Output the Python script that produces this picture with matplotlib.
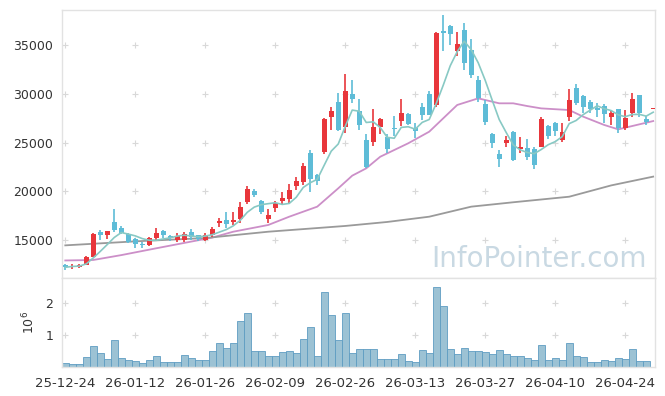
import numpy as np
import pandas as pd
import matplotlib
matplotlib.use('Agg')
import matplotlib.pyplot as plt

# daily candles (KRW)
opens = [12440, 12230, 12230, 12470, 13260, 15850, 15510, 16815, 16200, 15620,
         15130, 14590, 14460, 15170, 15920, 15410, 15000, 15000, 15820, 15480,
         15000, 15480, 16780, 17050, 16850, 17120, 18930, 20030, 19000, 17150,
         18310, 19000, 19200, 20570, 20980, 23950, 21670, 24060, 27650, 29180,
         26620, 29970, 28260, 25230, 25020, 26560, 25530, 26490, 27240, 27920,
         26490, 28610, 29970, 28880, 36400, 36930, 34430, 36540, 34490, 31410,
         28950, 25870, 23820, 24920, 26080, 24360, 24470, 24330, 24570, 26700,
         26970, 25260, 27650, 30560, 29770, 29180, 28570, 28740, 27650, 28430,
         26470, 28000, 29870, 27390, 28470]
highs = [12540, 12510, 12500, 13390, 15750, 16030, 15920, 18150, 16440, 15700,
         15240, 14830, 15270, 16200, 16025, 15510, 15680, 15850, 16100, 15550,
         15680, 16300, 17290, 17840, 17900, 18870, 20570, 20200, 19100, 18150,
         19000, 19950, 20710, 21430, 22900, 24230, 21800, 27500, 28670, 30100,
         32000, 31410, 29500, 25870, 28440, 27510, 25870, 27690, 29500, 28030,
         27000, 29050, 30250, 36340, 38070, 37030, 36360, 37290, 35580, 31820,
         29360, 25940, 24230, 25670, 26180, 25530, 25330, 24500, 27650, 26800,
         27140, 26970, 30460, 31000, 29870, 29360, 29100, 28950, 28330, 28430,
         28330, 30050, 29870, 27720, 28470]
lows = [11920, 12060, 12100, 12400, 13220, 15000, 15070, 15790, 15620, 14660,
        14210, 14150, 14420, 15000, 15170, 14930, 14830, 14830, 15000, 14930,
        14930, 15340, 16360, 16200, 16540, 16710, 18690, 19450, 17650, 16710,
        17900, 18660, 18760, 20130, 20690, 19950, 20640, 23850, 26280, 26200,
        25940, 29020, 26310, 22380, 24600, 25870, 23920, 25640, 26670, 26800,
        25460, 27340, 27780, 28650, 34350, 34970, 33920, 32440, 31580, 29140,
        26800, 24400, 22520, 24490, 23130, 23920, 23200, 22250, 24500, 25330,
        25670, 25100, 27250, 28850, 28000, 28000, 27650, 27030, 26800, 25940,
        26280, 27650, 27650, 26800, 28470]
closes = [12200, 12370, 12400, 13220, 15620, 15540, 15890, 16025, 15750, 14830,
          14620, 14490, 15170, 15750, 15510, 15170, 15410, 15620, 15340, 15130,
          15510, 16100, 16950, 16640, 17050, 18350, 20200, 19620, 17900, 17560,
          18830, 19340, 20130, 21050, 22590, 21260, 21080, 27410, 28230, 26250,
          30310, 29430, 26820, 22460, 26590, 27410, 24360, 26360, 28030, 26930,
          26150, 27850, 27850, 36230, 36280, 36130, 35130, 33180, 31920, 29530,
          27130, 24920, 23280, 25260, 23200, 24570, 23560, 22690, 27380, 25670,
          26150, 26110, 29360, 29020, 28670, 28430, 28330, 27890, 28060, 26470,
          27500, 29430, 28000, 27130, 28470]
# volume in millions of shares
volumes = [0.125, 0.09, 0.09, 0.31, 0.66, 0.45, 0.25, 0.84, 0.28, 0.22,
           0.2, 0.125, 0.22, 0.34, 0.17, 0.17, 0.17, 0.375, 0.28, 0.22,
           0.22, 0.5, 0.75, 0.59, 0.75, 1.44, 1.69, 0.5, 0.5, 0.34,
           0.34, 0.47, 0.5, 0.44, 0.875, 1.25, 0.34, 2.34, 1.625, 0.84,
           1.71, 0.44, 0.58, 0.58, 0.58, 0.27, 0.27, 0.27, 0.4, 0.19,
           0.16, 0.55, 0.46, 2.52, 1.93, 0.58, 0.4, 0.61, 0.52, 0.52,
           0.49, 0.4, 0.55, 0.43, 0.36, 0.36, 0.3, 0.24, 0.71, 0.24,
           0.3, 0.24, 0.77, 0.36, 0.33, 0.18, 0.18, 0.24, 0.21, 0.3,
           0.27, 0.58, 0.21, 0.21, 0.0]

# slower moving averages, read at a few bars
ma20_idx = [0, 4, 8, 13, 17, 21, 24, 29, 32, 36, 39, 41, 43, 45, 49, 52, 56, 59,
            62, 64, 66, 68, 72, 74, 77, 79, 81, 84]
ma20_val = [12900, 12950, 13450, 14150, 14700, 15250, 15850, 16540, 17390, 18420,
            20300, 21600, 22350, 23540, 24920, 26110, 28850, 29530, 29020, 29020,
            28740, 28500, 28330, 27650, 26800, 26350, 26690, 27200]
ma120_idx = [0, 10, 20, 29, 40, 46, 52, 58, 64, 72, 78, 84]
ma120_val = [14450, 14860, 15200, 15850, 16440, 16850, 17390, 18420, 18870, 19440,
             20600, 21500]

tick_pos = [0, 10, 20, 30, 40, 50, 60, 70, 80]
tick_labels = ['25-12-24', '26-01-12', '26-01-26', '26-02-09', '26-02-26',
               '26-03-13', '26-03-27', '26-04-10', '26-04-24']
price_ticks = [15000, 20000, 25000, 30000, 35000]
vol_ticks = [1, 2]

up_color = '#E8363B'
down_color = '#5EBCD7'
frame_color = '#E2E2E2'

o = np.array(opens)
h = np.array(highs)
l = np.array(lows)
c = np.array(closes)
x = np.arange(len(c))
ma5 = pd.Series(c).rolling(5, min_periods=1).mean()

fig = plt.figure(figsize=(6.65, 3.96), dpi=100)
ax = fig.add_axes([0.0929, 0.2972, 0.8925, 0.6775])
axv = fig.add_axes([0.0929, 0.0725, 0.8925, 0.2247], sharex=ax)

# candles
colors = np.where(c >= o, up_color, down_color)
ax.vlines(x, l, h, colors=colors, lw=1.2, zorder=3)
body = np.maximum(np.abs(c - o), 60)
ax.bar(x, body, bottom=np.minimum(o, c), width=0.72, color=colors, lw=0, zorder=4)

ax.plot(x, ma5, color='#88C9C4', lw=1.2, zorder=5)
ax.plot(ma20_idx, ma20_val, color='#CC8FC8', lw=1.3, zorder=2)
ax.plot(ma120_idx, ma120_val, color='#9A9A9A', lw=1.3, zorder=2)

ax.set_ylim(11070, 38590)
ax.set_xlim(-0.5, 84.3)
ax.set_yticks(price_ticks)
ax.tick_params(axis='y', length=0, pad=6, labelsize=9, labelcolor='#333333')
ax.tick_params(axis='x', length=0, labelbottom=False)

ax.text(0.985, 0.042, 'InfoPointer.com', transform=ax.transAxes, ha='right',
        va='baseline', fontsize=20, color='#C9D9E3', zorder=1)

# volume
axv.bar(x, volumes, width=1.0, color='#9CC2D4', edgecolor='#5E9DC2', lw=0.6)
axv.set_ylim(0, 2.78)
axv.set_yticks(vol_ticks)
axv.set_ylabel('$10^6$', fontsize=9, color='#333333', labelpad=6)
axv.tick_params(axis='y', length=0, pad=6, labelsize=9, labelcolor='#333333')
axv.set_xticks(tick_pos)
axv.set_xticklabels(tick_labels)
axv.tick_params(axis='x', length=0, pad=7, labelsize=9.5, labelcolor='#333333')

# little "+" markers at the grid crossings
for a, yt in [(ax, price_ticks), (axv, vol_ticks)]:
    gx, gy = np.meshgrid(tick_pos, yt)
    a.scatter(gx.ravel(), gy.ravel(), marker='+', s=22, color='#D8D8D8', lw=0.8, zorder=0)
    for s in a.spines.values():
        s.set_color(frame_color)
        s.set_linewidth(1.0)

fig.savefig('out.png', dpi=100)
